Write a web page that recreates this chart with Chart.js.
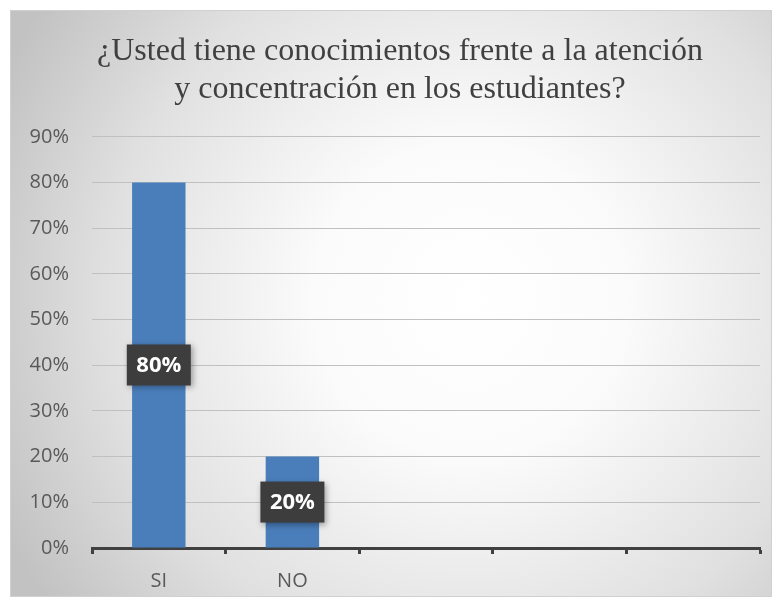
<!DOCTYPE html>
<html>
<head>
<meta charset="utf-8">
<script src="https://cdn.jsdelivr.net/npm/chart.js@4"></script>
<style>
html,body{margin:0;padding:0;background:#ffffff;}
#wrap{width:782px;height:607px;position:relative;}
</style>
</head>
<body>
<div id="wrap"><canvas id="c"></canvas></div>
<script>
const titleLines = ['¿Usted tiene conocimientos frente a la atención', 'y concentración en los estudiantes?'];
const categories = ['SI', 'NO', '', '', ''];
const values = [80, 20, null, null, null];
const yMin = 0;
const yMax = 90;
const yStep = 10;

const bgPlugin = {
  id: 'bg',
  beforeDraw(chart) {
    const ctx = chart.ctx;
    const W = chart.width, H = chart.height;
    ctx.save();
    ctx.fillStyle = '#ffffff';
    ctx.fillRect(0, 0, W, H);
    const x0 = 10, y0 = 10, x1 = 772, y1 = 597;
    const g = ctx.createRadialGradient(470, 300, 0, 470, 300, 520);
    g.addColorStop(0, '#ffffff');
    g.addColorStop(0.3, '#fbfbfb');
    g.addColorStop(0.7, '#e0e0e0');
    g.addColorStop(1, '#c2c2c2');
    ctx.fillStyle = g;
    ctx.fillRect(x0, y0, x1 - x0, y1 - y0);
    ctx.strokeStyle = '#d0d0d0';
    ctx.lineWidth = 1;
    ctx.strokeRect(x0 + 0.5, y0 + 0.5, x1 - x0 - 1, y1 - y0 - 1);
    ctx.restore();
  }
};

const labelPlugin = {
  id: 'boxlabels',
  afterDatasetsDraw(chart) {
    const ctx = chart.ctx;
    const meta = chart.getDatasetMeta(0);
    ctx.save();
    meta.data.forEach((bar, i) => {
      const v = values[i];
      if (v === null || v === undefined) return;
      const cx = bar.x;
      const cy = (bar.y + bar.base) / 2;
      const w = 64, h = 41;
      ctx.shadowColor = 'rgba(0,0,0,0.35)';
      ctx.shadowBlur = 6;
      ctx.shadowOffsetX = 2;
      ctx.shadowOffsetY = 2;
      ctx.fillStyle = '#3d3d3d';
      ctx.fillRect(cx - w / 2, cy - h / 2, w, h);
      ctx.shadowColor = 'transparent';
      ctx.fillStyle = '#ffffff';
      ctx.font = 'bold 22px "Open Sans", sans-serif';
      ctx.textAlign = 'center';
      ctx.textBaseline = 'middle';
      ctx.fillText(v + '%', cx, cy + 1);
    });
    ctx.restore();
  }
};

new Chart(document.getElementById('c'), {
  type: 'bar',
  data: {
    labels: categories,
    datasets: [{
      data: values,
      backgroundColor: '#4a7ebb',
      borderWidth: 0,
      barPercentage: 0.4,
      categoryPercentage: 1.0
    }]
  },
  options: {
    responsive: true,
    maintainAspectRatio: false,
    animation: false,
    layout: { padding: { left: 25, right: 7, top: 0, bottom: 0 } },
    plugins: {
      legend: { display: false },
      tooltip: { enabled: false },
      title: {
        display: true,
        text: titleLines,
        color: '#404040',
        font: { family: '"Liberation Serif", "Times New Roman", serif', size: 32, weight: 'normal', lineHeight: 1.2 },
        padding: { top: 32, bottom: 28 }
      }
    },
    scales: {
      x: {
        grid: { drawOnChartArea: false, drawTicks: true, tickLength: 6, tickColor: '#404040', tickWidth: 3 },
        border: { display: true, color: '#404040', width: 3 },
        ticks: { color: '#595959', font: { family: '"Open Sans", sans-serif', size: 20 }, padding: 15 },
        afterFit(scale) { scale.height = 59; }
      },
      y: {
        min: yMin,
        max: yMax,
        grid: { color: '#c0c0c0', lineWidth: 1, drawTicks: false },
        border: { display: false },
        ticks: {
          stepSize: yStep,
          color: '#595959',
          font: { family: '"Open Sans", sans-serif', size: 20 },
          padding: 23,
          callback: v => v + '%'
        },
        afterFit(scale) { scale.width = 67; }
      },
      y2: {
        type: 'linear',
        position: 'right',
        display: true,
        grid: { drawOnChartArea: false, drawTicks: false },
        border: { display: false },
        ticks: { display: false },
        afterFit(scale) { scale.width = 15; }
      }
    }
  },
  plugins: [bgPlugin, labelPlugin]
});
</script>
</body>
</html>
